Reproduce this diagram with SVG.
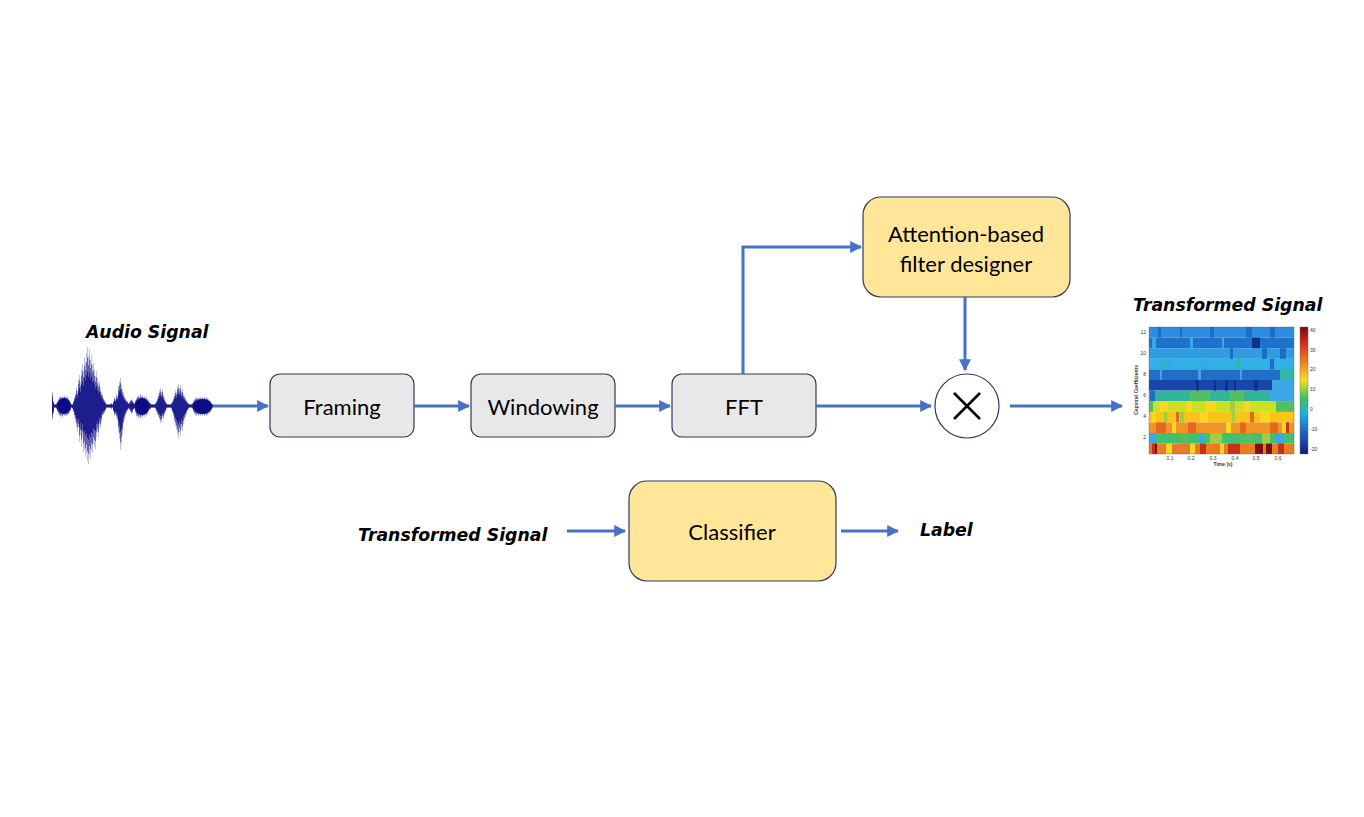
<svg xmlns="http://www.w3.org/2000/svg" width="1364" height="817" viewBox="0 0 1364 817">
<defs>
<style>
.box{fill:#e8e8e8;stroke:#2e3a5c;stroke-width:1.2}
.ybox{fill:#ffe699;stroke:#2e3a5c;stroke-width:1.2}
.lbl{font-family:Lato,"Noto Sans",sans-serif;font-size:22px;fill:#000;text-anchor:middle;dominant-baseline:central}
.hand{font-family:"DejaVu Sans",sans-serif;font-style:oblique;font-weight:bold;font-size:17.3px;fill:#000}
.edge{fill:none;stroke:#4472c4;stroke-width:3}
.tick{font-family:"Liberation Sans",sans-serif;font-size:5px;fill:#333}
</style>
<marker id="ah" viewBox="0 0 10 10" refX="9" refY="5" markerWidth="4" markerHeight="4" markerUnits="strokeWidth" orient="auto">
<path d="M0,0 L10,5 L0,10 z" fill="#4472c4"/>
</marker>
<linearGradient id="jet" x1="0" y1="0" x2="0" y2="1">
<stop offset="0" stop-color="#7a0a0a"/>
<stop offset="0.12" stop-color="#d82818"/>
<stop offset="0.28" stop-color="#f08020"/>
<stop offset="0.42" stop-color="#f8e020"/>
<stop offset="0.56" stop-color="#40c060"/>
<stop offset="0.68" stop-color="#20b0e0"/>
<stop offset="0.84" stop-color="#1f5ec0"/>
<stop offset="1" stop-color="#1a1a80"/>
</linearGradient>
<path id="wave" fill="none" stroke-width="1" d="M52.5 392V420M53.5 401V414M54.5 404V408M55.5 404V408M56.5 403V409M57.5 401V412M58.5 399V414M59.5 397V416M60.5 396V417M61.5 397V416M62.5 396V418M63.5 397V415M64.5 395V416M65.5 397V416M66.5 396V416M67.5 397V415M68.5 398V415M69.5 400V413M70.5 402V411M71.5 404V408M72.5 404V409M73.5 401V412M74.5 397V417M75.5 393V422M76.5 387V427M77.5 391V432M78.5 379V428M79.5 375V442M80.5 382V435M81.5 369V447M82.5 364V437M83.5 371V452M84.5 357V449M85.5 362V457M86.5 353V453M87.5 347V461M88.5 356V464M89.5 349V455M90.5 360V459M91.5 355V451M92.5 365V453M93.5 363V444M94.5 369V447M95.5 376V449M96.5 371V437M97.5 378V433M98.5 383V437M99.5 381V426M100.5 388V428M101.5 392V422M102.5 394V416M103.5 398V415M104.5 400V413M105.5 402V411M106.5 404V408M107.5 404V408M108.5 404V408M109.5 404V408M110.5 404V408M111.5 403V409M112.5 404V408M113.5 401V412M114.5 397V416M115.5 399V415M116.5 394V418M117.5 396V421M118.5 386V432M119.5 381V439M120.5 378V450M121.5 385V444M122.5 389V435M123.5 393V425M124.5 396V420M125.5 398V416M126.5 400V413M127.5 401V411M128.5 403V409M129.5 402V410M130.5 400V412M131.5 399V414M132.5 400V413M133.5 402V410M134.5 403V409M135.5 400V413M136.5 398V416M137.5 396V418M138.5 395V418M139.5 397V417M140.5 394V419M141.5 396V417M142.5 395V418M143.5 397V416M144.5 396V417M145.5 398V415M146.5 397V416M147.5 399V414M148.5 400V412M149.5 402V410M150.5 403V409M151.5 404V408M152.5 404V408M153.5 404V408M154.5 404V408M155.5 403V409M156.5 401V412M157.5 398V415M158.5 394V417M159.5 390V420M160.5 388V423M161.5 392V422M162.5 389V418M163.5 395V419M164.5 398V415M165.5 401V412M166.5 403V409M167.5 404V408M168.5 404V408M169.5 404V408M170.5 404V408M171.5 403V409M172.5 401V413M173.5 398V416M174.5 394V422M175.5 390V426M176.5 392V430M177.5 386V434M178.5 384V438M179.5 388V432M180.5 385V436M181.5 391V428M182.5 389V431M183.5 394V424M184.5 396V420M185.5 398V417M186.5 400V414M187.5 402V411M188.5 403V409M189.5 404V408M190.5 404V408M191.5 404V408M192.5 403V409M193.5 401V412M194.5 399V414M195.5 398V415M196.5 397V416M197.5 398V415M198.5 397V416M199.5 398V415M200.5 397V416M201.5 398V415M202.5 397V416M203.5 398V415M204.5 397V416M205.5 398V415M206.5 397V416M207.5 398V415M208.5 399V414M209.5 400V413M210.5 401V412M211.5 403V410M212.5 404V408"/>
</defs>
<rect width="1364" height="817" fill="#ffffff"/>

<g id="audio-signal">
<text class="hand" x="86" y="338">Audio Signal</text>
<use href="#wave" stroke="#c0c0e2"/>
<use href="#wave" stroke="#5656a8" transform="translate(0,406) scale(1,0.82) translate(0,-406)"/>
<use href="#wave" stroke="#0c0c84" transform="translate(0,406) scale(1,0.58) translate(0,-406)"/>
<g fill="#0c0c84">
<ellipse cx="64" cy="406" rx="6.5" ry="8"/>
<ellipse cx="142" cy="406.5" rx="7" ry="8.5"/>
<ellipse cx="202.5" cy="406.5" rx="9.5" ry="7.5"/>
</g>
</g>

<g id="framing">
<rect class="box" x="270" y="374" width="144" height="63" rx="10"/>
<text class="lbl" x="342" y="406">Framing</text>
</g>
<g id="windowing">
<rect class="box" x="471" y="374" width="144" height="63" rx="10"/>
<text class="lbl" x="543" y="406">Windowing</text>
</g>
<g id="fft">
<rect class="box" x="672" y="374" width="144" height="63" rx="10"/>
<text class="lbl" x="744" y="406">FFT</text>
</g>
<g id="attention">
<rect class="ybox" x="863" y="197" width="207" height="100" rx="18"/>
<text class="lbl" x="966" y="233">Attention-based</text>
<text class="lbl" x="966" y="263">filter designer</text>
</g>
<g id="multiply">
<circle cx="967" cy="406" r="32" fill="#ffffff" stroke="#2e3a5c" stroke-width="1.2"/>
<path d="M954,393 L980,419 M980,393 L954,419" stroke="#000" stroke-width="2.6" fill="none"/>
</g>
<g id="classifier">
<rect class="ybox" x="629" y="481" width="207" height="100" rx="18"/>
<text class="lbl" x="732" y="531">Classifier</text>
</g>
<g id="transformed-signal-in">
<text class="hand" x="358" y="541">Transformed Signal</text>
</g>
<g id="label">
<text class="hand" x="920" y="536">Label</text>
</g>

<g id="transformed-signal-out">
<text class="hand" x="1133" y="311">Transformed Signal</text>
<g id="spectrogram">
<rect x="1149" y="327" width="145" height="10.6" fill="#2a8ee0"/>
<rect x="1149" y="337.6" width="145" height="10.6" fill="#1f72cc"/>
<rect x="1149" y="348.2" width="145" height="10.6" fill="#2f9ce0"/>
<rect x="1149" y="358.8" width="145" height="10.6" fill="#30b0e4"/>
<rect x="1149" y="369.4" width="145" height="10.6" fill="#1f6ec8"/>
<rect x="1149" y="380" width="145" height="10.6" fill="#1a46ac"/>
<rect x="1149" y="390.6" width="145" height="10.6" fill="#30b49a"/>
<rect x="1149" y="401.2" width="145" height="10.6" fill="#c8e028"/>
<rect x="1149" y="411.8" width="145" height="10.6" fill="#f8c418"/>
<rect x="1149" y="422.4" width="145" height="10.6" fill="#f09428"/>
<rect x="1149" y="433" width="145" height="10.6" fill="#40c070"/>
<rect x="1149" y="443.6" width="145" height="10.4" fill="#e87c20"/>
<g fill="#1f6cc8">
<rect x="1158" y="327" width="3" height="10.6"/><rect x="1180" y="327" width="2" height="10.6"/><rect x="1210" y="327" width="4" height="10.6"/><rect x="1246" y="327" width="6" height="10.6"/><rect x="1270" y="327" width="5" height="10.6"/>
<rect x="1230" y="348.2" width="3" height="10.6"/><rect x="1262" y="348.2" width="5" height="10.6"/><rect x="1280" y="348.2" width="6" height="10.6"/>
<rect x="1270" y="358.8" width="4" height="10.6"/>
<rect x="1150" y="390.6" width="5" height="10.6"/>
</g>
<g fill="#3aa8e8">
<rect x="1152" y="337.6" width="4" height="10.6"/><rect x="1190" y="337.6" width="3" height="10.6"/><rect x="1222" y="337.6" width="2" height="10.6"/>
<rect x="1168" y="358.8" width="3" height="10.6"/><rect x="1200" y="358.8" width="4" height="10.6"/>
<rect x="1160" y="369.4" width="2" height="10.6"/><rect x="1198" y="369.4" width="3" height="10.6"/><rect x="1240" y="369.4" width="2" height="10.6"/>
<rect x="1272" y="380" width="22" height="10.6"/>
<rect x="1270" y="390.6" width="24" height="10.6"/>
<rect x="1149" y="433" width="6" height="10.6"/><rect x="1200" y="433" width="3" height="10.6"/><rect x="1276" y="433" width="8" height="10.6"/>
</g>
<g fill="#30b8a0">
<rect x="1280" y="369.4" width="14" height="10.6"/>
<rect x="1164" y="358.8" width="2" height="10.6"/><rect x="1236" y="358.8" width="3" height="10.6"/>
</g>
<g fill="#10308c">
<rect x="1196" y="380" width="3" height="10.6"/><rect x="1214" y="380" width="2" height="10.6"/><rect x="1225" y="380" width="3" height="10.6"/><rect x="1234" y="380" width="2" height="10.6"/><rect x="1254" y="380" width="4" height="10.6"/>
<rect x="1252" y="337.6" width="8" height="10.6"/>
</g>
<g fill="#50c060">
<rect x="1190" y="390.6" width="20" height="10.6"/><rect x="1230" y="390.6" width="14" height="10.6"/>
<rect x="1149" y="401.2" width="4" height="10.6"/><rect x="1276" y="401.2" width="18" height="10.6"/>
<rect x="1180" y="433" width="10" height="10.6"/><rect x="1240" y="433" width="14" height="10.6"/>
</g>
<g fill="#f8d820">
<rect x="1160" y="401.2" width="8" height="10.6"/><rect x="1186" y="401.2" width="6" height="10.6"/><rect x="1206" y="401.2" width="10" height="10.6"/><rect x="1244" y="401.2" width="6" height="10.6"/>
<rect x="1152" y="411.8" width="4" height="10.6"/><rect x="1200" y="411.8" width="8" height="10.6"/><rect x="1260" y="411.8" width="10" height="10.6"/>
<rect x="1172" y="422.4" width="4" height="10.6"/><rect x="1226" y="422.4" width="5" height="10.6"/><rect x="1282" y="422.4" width="4" height="10.6"/>
<rect x="1166" y="443.6" width="6" height="10.4"/><rect x="1190" y="443.6" width="5" height="10.4"/><rect x="1220" y="443.6" width="4" height="10.4"/>
</g>
<g fill="#a0d040">
<rect x="1164" y="411.8" width="3" height="10.6"/><rect x="1180" y="411.8" width="4" height="10.6"/><rect x="1232" y="411.8" width="3" height="10.6"/>
<rect x="1210" y="433" width="12" height="10.6"/><rect x="1262" y="433" width="8" height="10.6"/>
<rect x="1230" y="401.2" width="5" height="10.6"/>
</g>
<g fill="#e86820">
<rect x="1156" y="422.4" width="10" height="10.6"/><rect x="1188" y="422.4" width="8" height="10.6"/><rect x="1240" y="422.4" width="6" height="10.6"/><rect x="1270" y="422.4" width="8" height="10.6"/>
<rect x="1176" y="411.8" width="3" height="10.6"/><rect x="1250" y="411.8" width="4" height="10.6"/>
</g>
<g fill="#c83018">
<rect x="1152" y="443.6" width="4" height="10.4"/><rect x="1200" y="443.6" width="6" height="10.4"/><rect x="1228" y="443.6" width="12" height="10.4"/><rect x="1278" y="443.6" width="6" height="10.4"/>
<rect x="1286" y="422.4" width="3" height="10.6"/>
</g>
<g fill="#7a1010">
<rect x="1255" y="443.6" width="8" height="10.4"/><rect x="1266" y="443.6" width="6" height="10.4"/><rect x="1155" y="443.6" width="2" height="10.4"/>
</g>
<rect x="1149" y="327" width="145" height="127" fill="none" stroke="#666" stroke-width="0.4"/>
<rect x="1300" y="327" width="8" height="127" fill="url(#jet)" stroke="#666" stroke-width="0.4"/>
<g class="tick" text-anchor="end">
<text x="1146" y="334">12</text><text x="1146" y="355">10</text><text x="1146" y="376">8</text><text x="1146" y="397">6</text><text x="1146" y="418">4</text><text x="1146" y="439">2</text>
</g>
<g class="tick" text-anchor="middle">
<text x="1170" y="460">0.1</text><text x="1191" y="460">0.2</text><text x="1213" y="460">0.3</text><text x="1235" y="460">0.4</text><text x="1256" y="460">0.5</text><text x="1278" y="460">0.6</text>
<text x="1223" y="466" font-weight="bold">Time (s)</text>
<text x="1138" y="390" font-weight="bold" transform="rotate(-90 1138 390)">Cepstral Coefficients</text>
</g>
<g class="tick">
<text x="1310" y="332">40</text><text x="1310" y="352">30</text><text x="1310" y="371">20</text><text x="1310" y="391">10</text><text x="1310" y="411">0</text><text x="1310" y="431">-10</text><text x="1310" y="451">-20</text>
</g>
</g>
</g>

<g id="connectors">
<path class="edge" d="M213,406 H268" marker-end="url(#ah)"/>
<path class="edge" d="M414,406 H469" marker-end="url(#ah)"/>
<path class="edge" d="M615,406 H670" marker-end="url(#ah)"/>
<path class="edge" d="M816,406 H931" marker-end="url(#ah)"/>
<path class="edge" d="M743,374 V247 H861" marker-end="url(#ah)"/>
<path class="edge" d="M965,297 V370" marker-end="url(#ah)"/>
<path class="edge" d="M1010,406 H1122" marker-end="url(#ah)"/>
<path class="edge" d="M567,531 H625" marker-end="url(#ah)"/>
<path class="edge" d="M841,531 H898" marker-end="url(#ah)"/>
</g>
</svg>
